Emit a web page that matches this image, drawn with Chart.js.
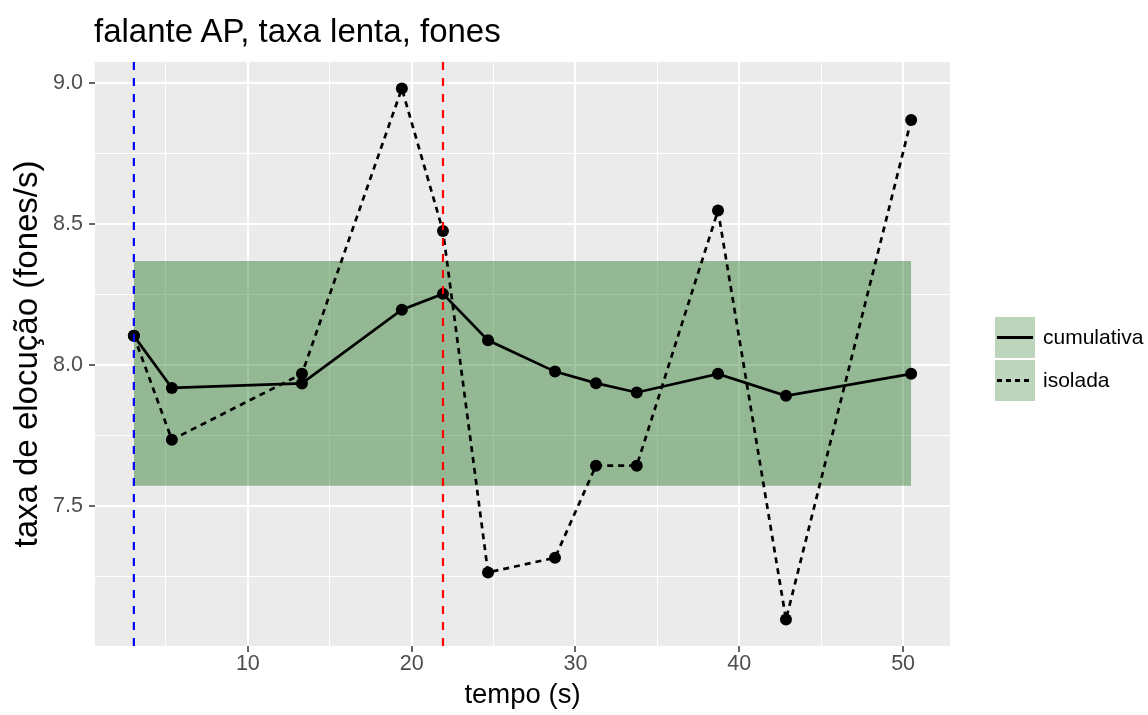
<!DOCTYPE html>
<html lang="pt">
<head>
<meta charset="utf-8">
<title>falante AP, taxa lenta, fones</title>
<script src="https://cdn.jsdelivr.net/npm/chart.js@4.4.1/dist/chart.umd.min.js"></script>
<style>
  body { margin: 0; background: #fff; font-family: "Liberation Sans", Arial, sans-serif; }
  #wrap { position: relative; width: 1148px; height: 715px; }
  #titulo { position: absolute; left: 94px; top: 12px; font-size: 33px; line-height: 38px; color: #000; white-space: nowrap; }
  .chave { position: absolute; left: 995px; width: 40px; height: 41px; background: #BDD4BD; }
  .traco { position: absolute; left: 2px; top: 19px; width: 36px; height: 2.5px; }
  .solido { background: #000; }
  .tracejado { background: repeating-linear-gradient(to right, #000 0 5px, transparent 5px 9px); }
  .rotulo { position: absolute; left: 1043px; font-size: 21px; line-height: 24px; color: #000; white-space: nowrap; }
</style>
</head>
<body>
<div id="wrap">
  <canvas id="grafico" width="1148" height="715"></canvas>
  <div id="titulo">falante AP, taxa lenta, fones</div>
  <div class="chave" style="top:317px"><div class="traco solido"></div></div>
  <div class="chave" style="top:360px"><div class="traco tracejado"></div></div>
  <div class="rotulo" style="top:325px">cumulativa</div>
  <div class="rotulo" style="top:368px">isolada</div>
</div>
<script>
'use strict';

// medições: tempo (s) e taxa de elocução (fones/s)
const tempo      = [3.04, 5.36, 13.30, 19.40, 21.91, 24.66, 28.75, 31.25, 33.74, 38.70, 42.85, 50.49];
const cumulativa = [8.103, 7.918, 7.934, 8.196, 8.252, 8.087, 7.976, 7.935, 7.902, 7.968, 7.890, 7.968];
const isolada    = [8.103, 7.734, 7.968, 8.981, 8.475, 7.263, 7.315, 7.642, 7.642, 8.548, 7.096, 8.869];

// faixa de referência (mín, máx)
const faixa = [7.571, 8.369];

// marcas verticais
const marcaAzul = 3.04;
const marcaVermelha = 21.91;

// eixos
const xMajor  = [10, 20, 30, 40, 50];
const xMinor  = [5, 15, 25, 35, 45];
const yMajor  = [7.5, 8.0, 8.5, 9.0];
const yMinor  = [7.25, 7.75, 8.25, 8.75];
const yLabels = ['7.5', '8.0', '8.5', '9.0'];

const FONT = '"Liberation Sans", Arial, sans-serif';

// ggplot-style 5% expansion
function expandRange(vals) {
  const lo = Math.min(...vals);
  const hi = Math.max(...vals);
  const pad = (hi - lo) * 0.05;
  return [lo - pad, hi + pad];
}

const xRange = expandRange(tempo);
const yRange = expandRange([...cumulativa, ...isolada, ...faixa]);

const toPoints = (ys) => tempo.map((x, i) => ({ x, y: ys[i] }));

function vline(x, color) {
  return {
    data: [{ x, y: yRange[0] }, { x, y: yRange[1] }],
    borderColor: color,
    borderWidth: 2.2,
    borderDash: [8, 8],
    pointRadius: 0,
    fill: false,
    order: 0
  };
}

// grey panel behind the grid
const panelBg = {
  id: 'panelBg',
  beforeDraw(chart) {
    const { ctx, chartArea: a } = chart;
    ctx.save();
    ctx.fillStyle = '#EBEBEB';
    ctx.fillRect(a.left, a.top, a.right - a.left, a.bottom - a.top);
    ctx.restore();
  }
};

function gridFor(major) {
  return {
    color: '#FFFFFF',
    lineWidth: (c) => major.includes(c.tick && c.tick.value) ? 2 : 1,
    tickLength: 6,
    tickWidth: 1.5,
    tickColor: (c) => major.includes(c.tick && c.tick.value) ? '#333333' : 'rgba(0,0,0,0)'
  };
}

const ribbonFill = 'rgba(0, 100, 0, 0.374)';
const last = tempo.length - 1;

new Chart(document.getElementById('grafico'), {
  type: 'line',
  data: {
    datasets: [
      vline(marcaAzul, '#0000FF'),
      vline(marcaVermelha, '#FF0000'),
      {
        label: 'cumulativa',
        data: toPoints(cumulativa),
        borderColor: '#000',
        borderWidth: 2.7,
        pointRadius: 6,
        pointBackgroundColor: '#000',
        pointBorderWidth: 0,
        fill: false,
        order: 1
      },
      {
        label: 'isolada',
        data: toPoints(isolada),
        borderColor: '#000',
        borderWidth: 2.7,
        borderDash: [6, 5],
        pointRadius: 6,
        pointBackgroundColor: '#000',
        pointBorderWidth: 0,
        fill: false,
        order: 2
      },
      {
        data: [{ x: tempo[0], y: faixa[1] }, { x: tempo[last], y: faixa[1] }],
        borderWidth: 0,
        pointRadius: 0,
        backgroundColor: ribbonFill,
        fill: '+1',
        order: 5
      },
      {
        data: [{ x: tempo[0], y: faixa[0] }, { x: tempo[last], y: faixa[0] }],
        borderWidth: 0,
        pointRadius: 0,
        fill: false,
        order: 6
      }
    ]
  },
  options: {
    responsive: false,
    animation: false,
    devicePixelRatio: 1,
    layout: { padding: { left: 0, right: 198, top: 62, bottom: 0 } },
    plugins: {
      legend: { display: false },
      tooltip: { enabled: false }
    },
    scales: {
      x: {
        type: 'linear',
        min: xRange[0],
        max: xRange[1],
        afterBuildTicks: (s) => {
          s.ticks = [...xMinor, ...xMajor].sort((a, b) => a - b).map(v => ({ value: v }));
        },
        afterFit: (s) => { s.height = 69; },
        border: { display: false },
        grid: gridFor(xMajor),
        ticks: {
          autoSkip: false,
          maxRotation: 0,
          padding: 1,
          color: '#4D4D4D',
          font: { family: FONT, size: 21.5, lineHeight: 1 },
          callback: (v) => xMajor.includes(v) ? String(v) : ''
        },
        title: {
          display: true,
          text: 'tempo (s)',
          color: '#000',
          font: { family: FONT, size: 27.5 },
          padding: { top: 0, bottom: 3 }
        }
      },
      y: {
        type: 'linear',
        min: yRange[0],
        max: yRange[1],
        afterBuildTicks: (s) => {
          s.ticks = [...yMinor, ...yMajor].sort((a, b) => a - b).map(v => ({ value: v }));
        },
        afterFit: (s) => { s.width = 95; },
        border: { display: false },
        grid: gridFor(yMajor),
        ticks: {
          autoSkip: false,
          padding: 6,
          color: '#4D4D4D',
          font: { family: FONT, size: 21.5 },
          callback: (v) => {
            const i = yMajor.indexOf(v);
            return i >= 0 ? yLabels[i] : '';
          }
        },
        title: {
          display: true,
          text: 'taxa de elocução (fones/s)',
          color: '#000',
          font: { family: FONT, size: 33 },
          padding: { top: 8, bottom: 0 }
        }
      }
    }
  },
  plugins: [panelBg]
});
</script>
</body>
</html>
